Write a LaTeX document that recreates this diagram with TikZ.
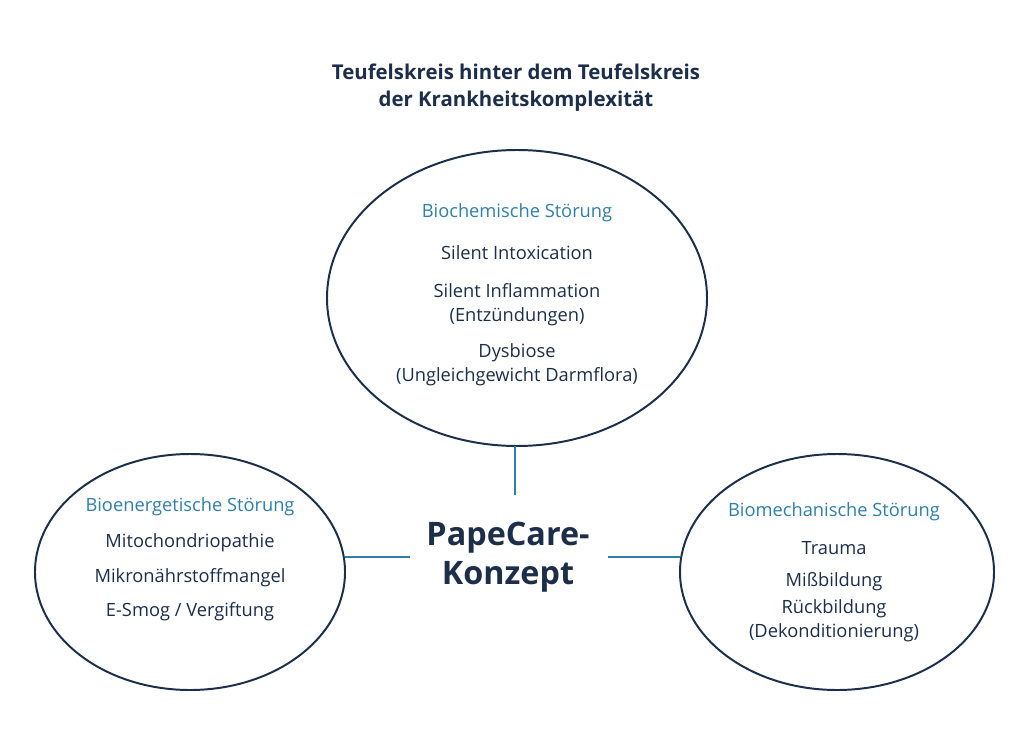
\documentclass[tikz,border=0pt]{standalone}
\usepackage{fontspec}
\setmainfont{Open Sans}
\usetikzlibrary{positioning}
\definecolor{navy}{HTML}{1C2E4A}
\definecolor{teal}{HTML}{2F7FA8}
\tikzset{
  circ/.style = {draw=navy, line width=1.4pt},
  link/.style = {draw=teal, line width=1.1pt},
  head/.style = {text=teal, font=\fontsize{13}{15}\selectfont},
  item/.style = {text=navy, align=center, font=\fontsize{13}{17}\selectfont}
}
\begin{document}
\begin{tikzpicture}[x=0.025cm, y=-0.025cm]
    \useasboundingbox (0,0) rectangle (1024,748);

    % Title
    \node (title) [text=navy, align=center, font=\bfseries\fontsize{14.5}{19}\selectfont]
        at (516,88) {Teufelskreis hinter dem Teufelskreis\\der Krankheitskomplexität};

    % Circles
    \draw [circ] (517,298) ellipse [x radius=190, y radius=148];
    \draw [circ] (190,572) ellipse [x radius=155, y radius=118];
    \draw [circ] (837,572) ellipse [x radius=157, y radius=118];

    % Centre
    \node (core) [text=navy, align=center, font=\bfseries\fontsize{23}{28}\selectfont]
        at (508,557) {PapeCare-\\Konzept};
    \coordinate (topend) at (515,446);
    \coordinate (leftend) at (345,557);
    \coordinate (rightend) at (680,557);
    \coordinate (ctop) at (515,495);
    \coordinate (cleft) at (410,557);
    \coordinate (cright) at (608,557);
    \draw [link] (topend) -- (ctop);
    \draw [link] (leftend) -- (cleft);
    \draw [link] (rightend) -- (cright);

    % Top circle
    \node (bc) [head] at (517,213) {Biochemische Störung};
    \node (bc1) [item] at (517,253) {Silent Intoxication};
    \node (bc2) [item] at (517,305) {Silent Inflammation\\(Entzündungen)};
    \node (bc3) [item] at (517,365) {Dysbiose\\(Ungleichgewicht Darmflora)};

    % Left circle
    \node (be) [head] at (190,507) {Bioenergetische Störung};
    \node (be1) [item] at (190,543) {Mitochondriopathie};
    \node (be2) [item] at (190,578) {Mikronährstoffmangel};
    \node (be3) [item] at (190,612) {E-Smog / Vergiftung};

    % Right circle
    \node (bm) [head] at (834,512) {Biomechanische Störung};
    \node (bm1) [item] at (834,548) {Trauma};
    \node (bm2) [item] at (834,582) {Mißbildung};
    \node (bm3) [item] at (834,621) {Rückbildung\\(Dekonditionierung)};
\end{tikzpicture}
\end{document}
